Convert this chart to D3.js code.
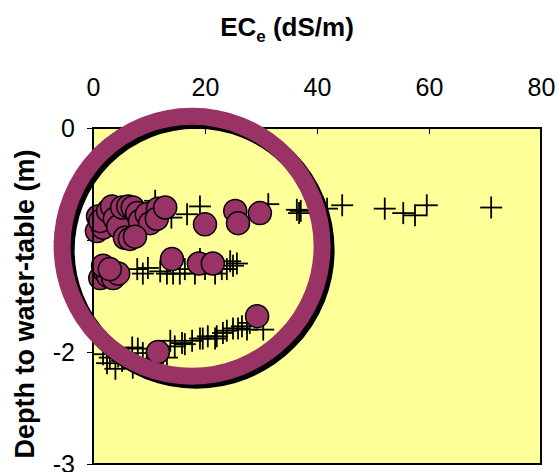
<!DOCTYPE html>
<html><head><meta charset="utf-8">
<script src="https://cdn.jsdelivr.net/npm/d3@7"></script>
<style>body{margin:0;background:#fff}svg{display:block;font-family:"Liberation Sans",Arial,sans-serif}</style>
</head><body><div id="chart"></div>
<script>
// Cross series (ECe dS/m, depth m)
const crossEC = [11.1,16.8,19.1,31.3,36.4,36.8,37.1,41.8,44.5,52.1,55.4,57.5,59.6,71.1,8,12,14,
  7.9,8.9,9.8,12.0,13.2,14.3,15.5,16.4,18.2,19.1,20.0,21.8,23.0,23.9,24.5,25.0,25.7,
  1.8,3.0,4.5,5.2,6.3,7.0,7.1,8.0,8.9,9.6,10.7,13.2,13.8,14.6,15.9,16.4,17.7,19.1,19.6,20.5,21.8,22.1,23.2,23.9,25.0,25.9,26.6,27.5,28.0,30.4,2.5,4.0];
const crossDepth = [-0.65,-0.77,-0.70,-0.68,-0.73,-0.76,-0.74,-0.72,-0.69,-0.72,-0.76,-0.78,-0.69,-0.71,-0.75,-0.72,-0.80,
  -1.26,-1.30,-1.25,-1.28,-1.30,-1.30,-1.30,-1.26,-1.30,-1.17,-1.26,-1.30,-1.26,-1.26,-1.19,-1.23,-1.21,
  -2.02,-2.05,-2.04,-2.08,-2.05,-1.96,-2.14,-1.97,-2.01,-2.06,-2.10,-2.05,-1.90,-1.95,-1.92,-1.93,-1.90,-1.88,-1.88,-1.86,-1.88,-1.86,-1.83,-1.81,-1.79,-1.79,-1.77,-1.80,-1.74,-1.80,-2.10,-2.15];
// Circle series (ECe dS/m, depth m)
const circEC = [0.9,0.7,1.8,1.3,2.7,3.4,3.9,4.5,5.2,6.3,7.1,7.9,8.4,9.6,10.2,11.6,11.4,12.9,5.7,6.6,7.5,20.0,25.4,25.9,29.8,
  1.3,2.1,2.7,3.6,4.5,1.8,3.0,14.1,18.9,21.4,
  11.6,29.3];
const circDepth = [-0.79,-0.92,-0.89,-0.83,-0.74,-0.70,-0.81,-0.88,-0.71,-0.70,-0.71,-0.76,-0.83,-0.77,-0.85,-0.72,-0.81,-0.71,-0.98,-0.99,-0.97,-0.86,-0.74,-0.85,-0.76,
  -1.34,-1.28,-1.32,-1.34,-1.30,-1.23,-1.26,-1.17,-1.21,-1.21,
  -2.00,-1.68];
const xTicks = [0,20,40,60,80];
const yTicks = [0,-1,-2,-3];
const ringCenter = [17.7,-1.055];

const W=558,H=472;
const svg=d3.select("#chart").append("svg").attr("width",W).attr("height",H);
const x=d3.scaleLinear().domain([0,80]).range([93,541]);
const y=d3.scaleLinear().domain([0,-3]).range([128,464]);
const fmt=d=>String(d);

svg.append("rect").attr("x",93).attr("y",128).attr("width",448).attr("height",336).attr("fill","#ffff99");

// axes
const xa=svg.append("g").attr("transform","translate(0,128)")
  .call(d3.axisTop(x).tickValues(xTicks).tickFormat(fmt).tickSize(-6).tickPadding(32));
xa.select(".domain").remove();
xa.selectAll("line").attr("stroke","#000");
xa.selectAll("text").attr("font-size",25).attr("fill","#000").attr("font-family","Liberation Sans, Arial");
const ya=svg.append("g").attr("transform","translate(93,0)")
  .call(d3.axisLeft(y).tickValues(yTicks).tickFormat(fmt).tickSize(6).tickPadding(12));
ya.select(".domain").remove();
ya.selectAll("line").attr("stroke","#000");
ya.selectAll("text").attr("font-size",25).attr("fill","#000").attr("font-family","Liberation Sans, Arial");

// crosses
const cs=11;
const cg=svg.append("g").attr("stroke","#000").attr("stroke-width",1.8);
crossEC.forEach((v,i)=>{
  const px=x(v),py=y(crossDepth[i]);
  cg.append("line").attr("x1",px-cs).attr("x2",px+cs).attr("y1",py).attr("y2",py);
  cg.append("line").attr("x1",px).attr("x2",px).attr("y1",py-cs).attr("y2",py+cs);
});
// circles
svg.append("g").selectAll("circle").data(circEC).join("circle")
  .attr("cx",d=>x(d)).attr("cy",(d,i)=>y(circDepth[i])).attr("r",11.5)
  .attr("fill","#993366").attr("stroke","#000").attr("stroke-width",1.5);

// border
svg.append("rect").attr("x",93).attr("y",128).attr("width",448).attr("height",336)
  .attr("fill","none").attr("stroke","#000").attr("stroke-width",2);

// ring annotation with shadow
const rcx=x(ringCenter[0]),rcy=y(ringCenter[1]);
svg.append("ellipse").attr("cx",rcx+4).attr("cy",rcy+4).attr("rx",130).attr("ry",130).attr("fill","none").attr("stroke","#000").attr("stroke-width",17);
svg.append("ellipse").attr("cx",rcx).attr("cy",rcy).attr("rx",130).attr("ry",130).attr("fill","none").attr("stroke","#993366").attr("stroke-width",17);

// titles
const t=svg.append("text").attr("x",287).attr("y",36).attr("text-anchor","middle").attr("font-size",26).attr("font-weight","bold");
t.append("tspan").text("EC");
t.append("tspan").text("e").attr("font-size",17).attr("dy",6);
t.append("tspan").text(" (dS/m)").attr("dy",-6);
svg.append("text").attr("transform","translate(34,304) rotate(-90)").attr("text-anchor","middle")
  .attr("font-size",27).attr("font-weight","bold").text("Depth to water-table (m)");
</script></body></html>
